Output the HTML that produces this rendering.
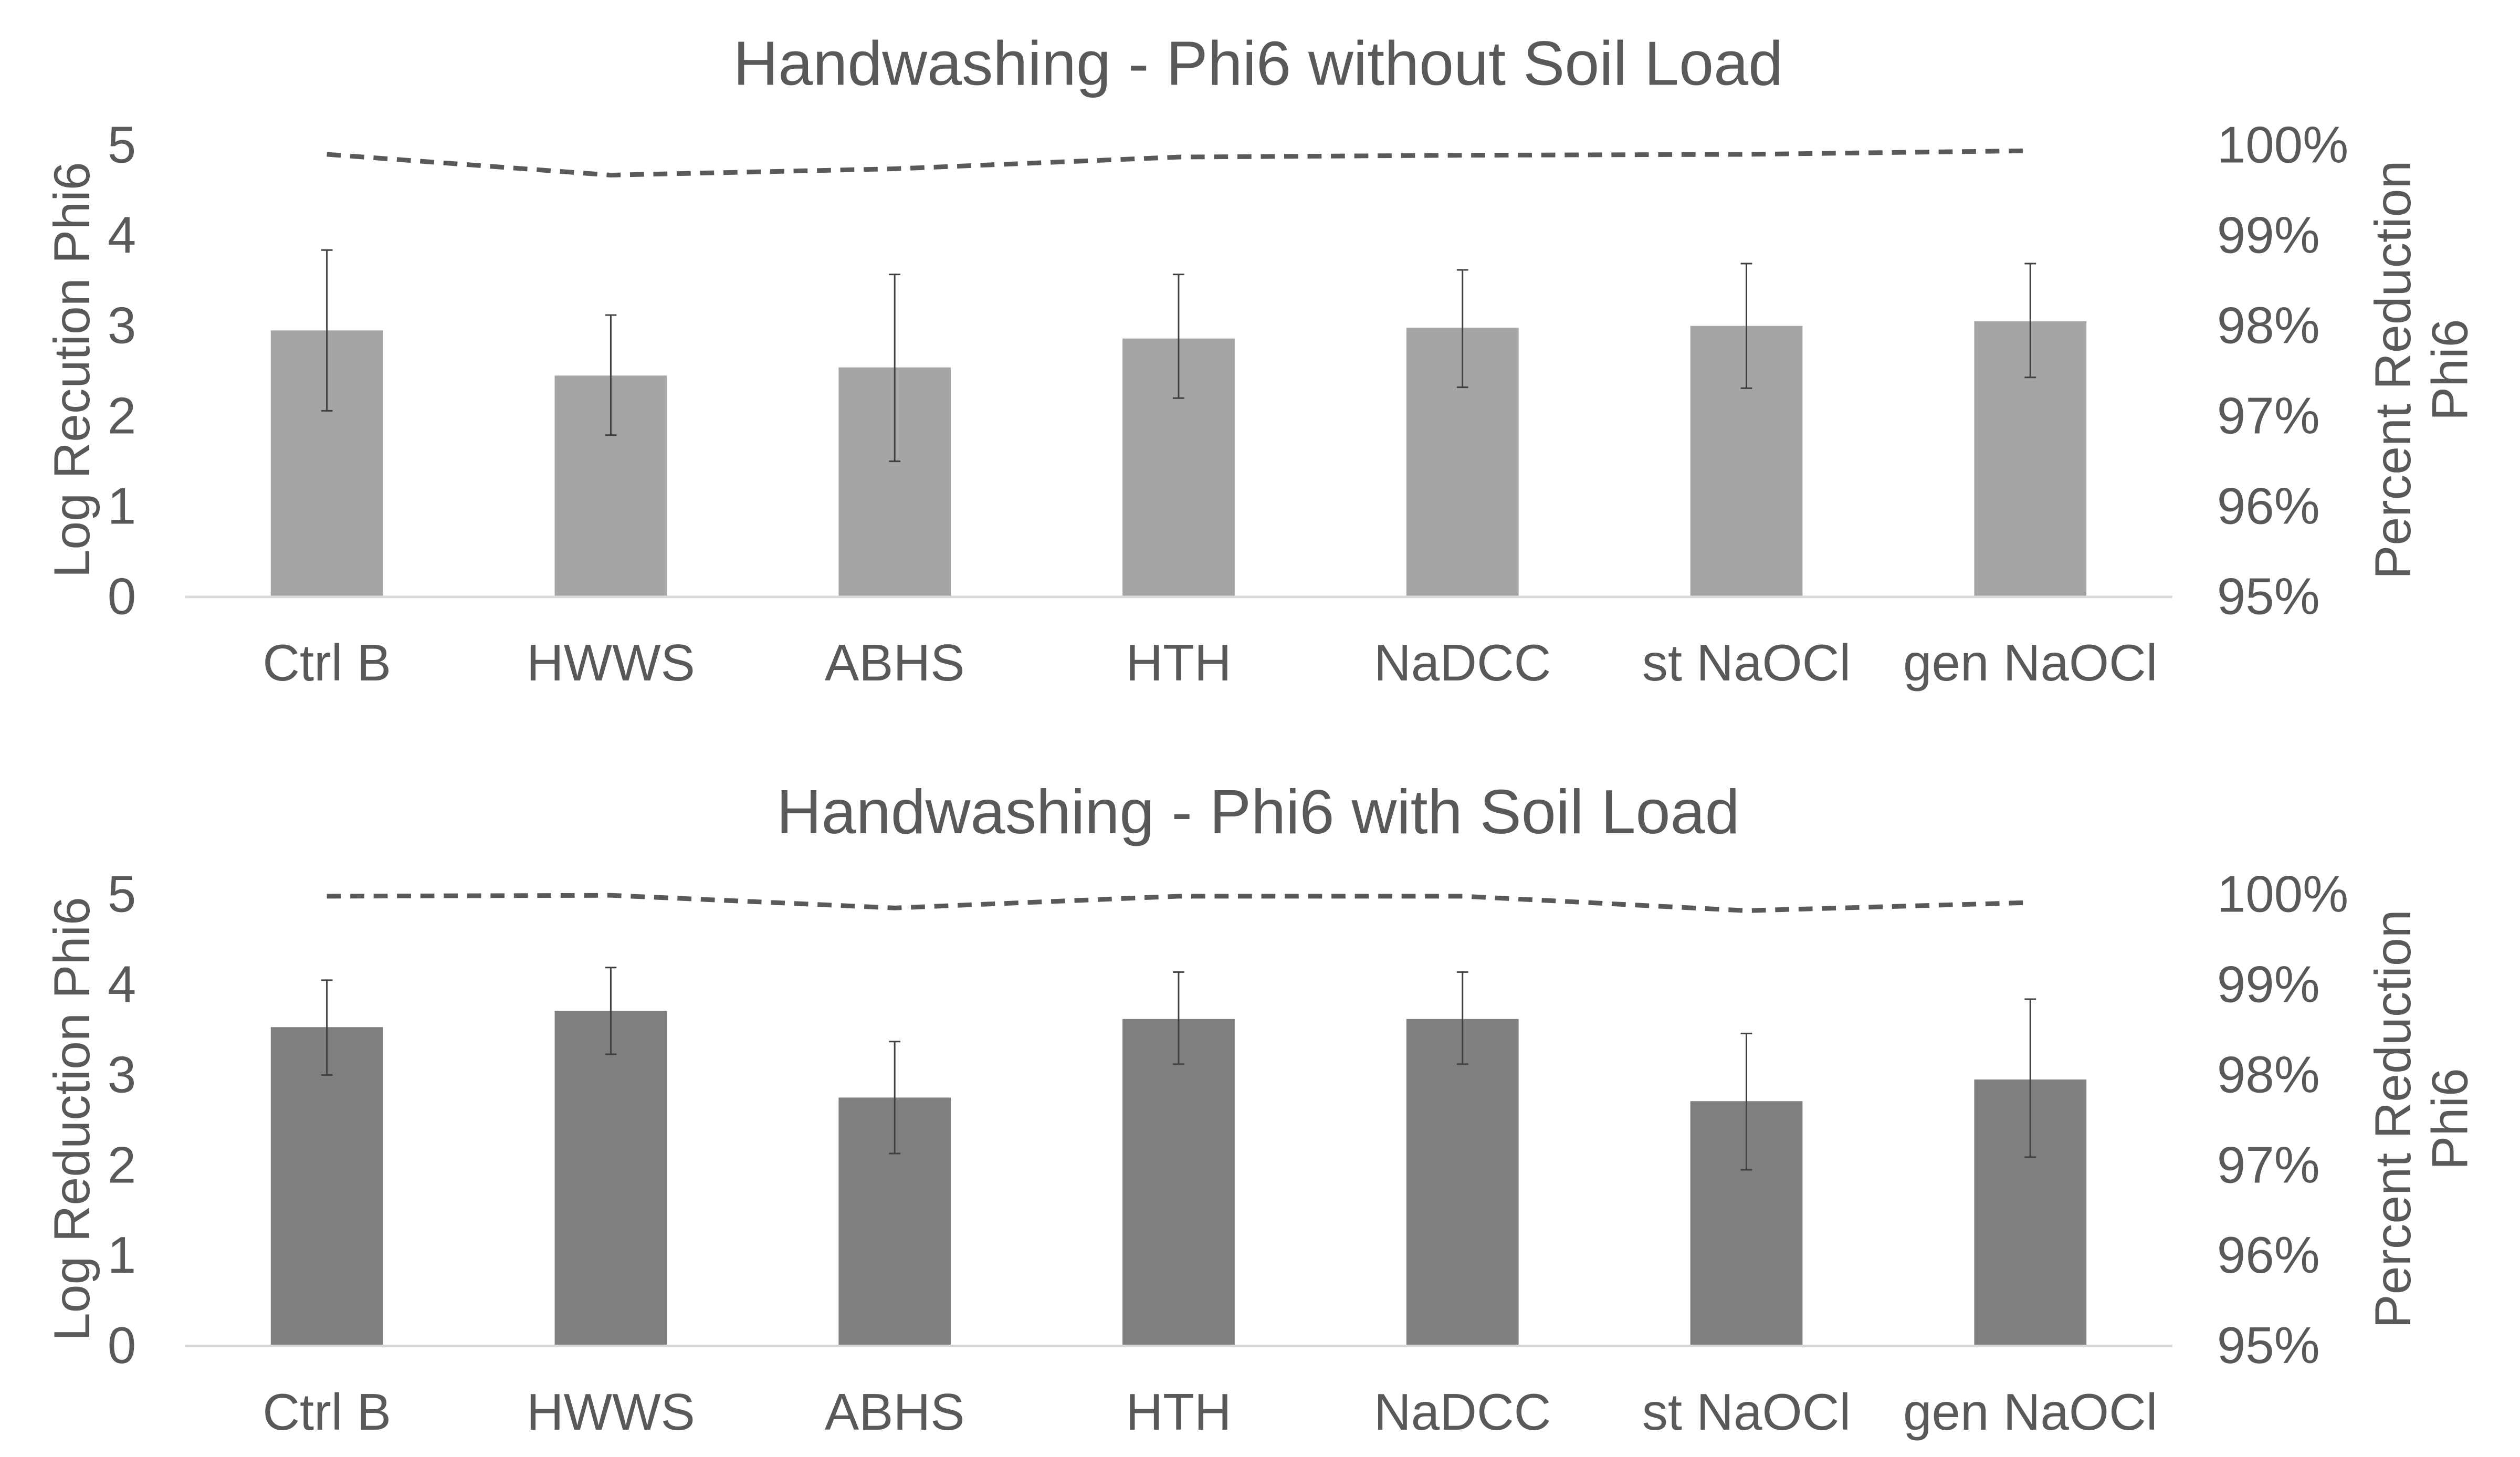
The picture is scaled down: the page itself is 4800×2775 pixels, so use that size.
<!DOCTYPE html>
<html><head><meta charset="utf-8"><style>
html,body{margin:0;padding:0;background:#fff;}
svg{display:block;font-family:"Liberation Sans",Arial,sans-serif;}
</style></head><body>
<svg id="chart" width="4800" height="2775" viewBox="0 0 4800 2775" xmlns="http://www.w3.org/2000/svg"><g id="root" transform="scale(0.9894)"></g></svg>
<script>
const categories = ["Ctrl B","HWWS","ABHS","HTH","NaDCC","st NaOCl","gen NaOCl"];
const logTicks = [0,1,2,3,4,5];
const pctTicks = ["95%","96%","97%","98%","99%","100%"];
const topLog = [2.94,2.44,2.53,2.85,2.97,2.99,3.04];
const topErrHi = [3.83,3.11,3.56,3.56,3.61,3.68,3.68];
const topErrLo = [2.05,1.78,1.49,2.19,2.31,2.30,2.42];
const topPct = [99.89,99.66,99.73,99.86,99.88,99.89,99.93];
const botLog = [3.52,3.70,2.74,3.61,3.61,2.70,2.94];
const botErrHi = [4.04,4.18,3.36,4.13,4.13,3.45,3.83];
const botErrLo = [2.99,3.22,2.12,3.11,3.11,1.94,2.08];
const botPct = [99.97,99.98,99.84,99.97,99.97,99.81,99.90];

const NS="http://www.w3.org/2000/svg";
const svg=document.getElementById('root');
function mk(tag,attrs,parent){const e=document.createElementNS(NS,tag);for(const k in attrs)e.setAttribute(k,attrs[k]);(parent||svg).appendChild(e);return e;}

function panel(cfg){
  const g=mk('g',{});
  
  
  const x0=356,x1=4182,base=cfg.base,unit=173.8;
  const band=(x1-x0)/categories.length;
  const xc=i=>x0+band*(i+0.5);
  const yL=v=>base-v*unit;
  const yP=p=>base-(p-95)*unit;
  const t=mk('text',{x:2422,y:cfg.titleY,'text-anchor':'middle','font-size':120,fill:'#595959'},g);
  t.textContent=cfg.title;
  
  
  logTicks.forEach(v=>{const e=mk('text',{x:262,y:yL(v)+35,'text-anchor':'end','font-size':99,fill:'#595959'},g);e.textContent=v;
    
    });
  pctTicks.forEach((s,i)=>{const e=mk('text',{x:4268,y:yL(i)+35,'font-size':99,fill:'#595959'},g);e.textContent=s;
    
    });
  const lt=mk('text',{transform:`translate(172,${base-435}) rotate(-90)`,'text-anchor':'middle','font-size':98,fill:'#595959'},g);
  lt.textContent=cfg.leftTitle;
  
  
  const rt=mk('text',{transform:`translate(4640,${base-435}) rotate(-90)`,'text-anchor':'middle','font-size':98,fill:'#595959'},g);
  rt.textContent='Percent Reduction';
  
  
  const rt2=mk('text',{transform:`translate(4750,${base-435}) rotate(-90)`,'text-anchor':'middle','font-size':98,fill:'#595959'},g);
  rt2.textContent='Phi6';
  
  
  cfg.vals.forEach((v,i)=>{
    const b=mk('rect',{x:xc(i)-108,y:yL(v),width:216,height:base-yL(v),fill:cfg.color},g);
    
    
    const hi=yL(cfg.hi[i]),lo=yL(cfg.lo[i]);
    const eb=mk('path',{d:`M${xc(i)},${hi}V${lo}M${xc(i)-11},${hi}H${xc(i)+11}M${xc(i)-11},${lo}H${xc(i)+11}`,stroke:'#404040','stroke-width':3,fill:'none'},g);
    
    
    const c=mk('text',{x:xc(i),y:cfg.catY,'text-anchor':'middle','font-size':99,fill:'#595959'},g);
    c.textContent=categories[i];
    
    
  });
  const ax=mk('line',{x1:x0,x2:x1,y1:base+2,y2:base+2,stroke:'#d9d9d9','stroke-width':5},g);
  
  
  const pts=cfg.pct.map((p,i)=>xc(i)+','+yP(p)).join(' ');
  const ln=mk('polyline',{points:pts,fill:'none',stroke:'#595959','stroke-width':9,'stroke-dasharray':'27 18'},g);
  
  
}
panel({name:'chart-without-soil',title:'Handwashing - Phi6 without Soil Load',titleY:163,base:1147,leftTitle:'Log Recution Phi6',catY:1310,vals:topLog,hi:topErrHi,lo:topErrLo,pct:topPct,color:'#a5a5a5'});
panel({name:'chart-with-soil',title:'Handwashing - Phi6 with Soil Load',titleY:1604,base:2589,leftTitle:'Log Reduction Phi6',catY:2752,vals:botLog,hi:botErrHi,lo:botErrLo,pct:botPct,color:'#7f7f7f'});
</script>
</body></html>
